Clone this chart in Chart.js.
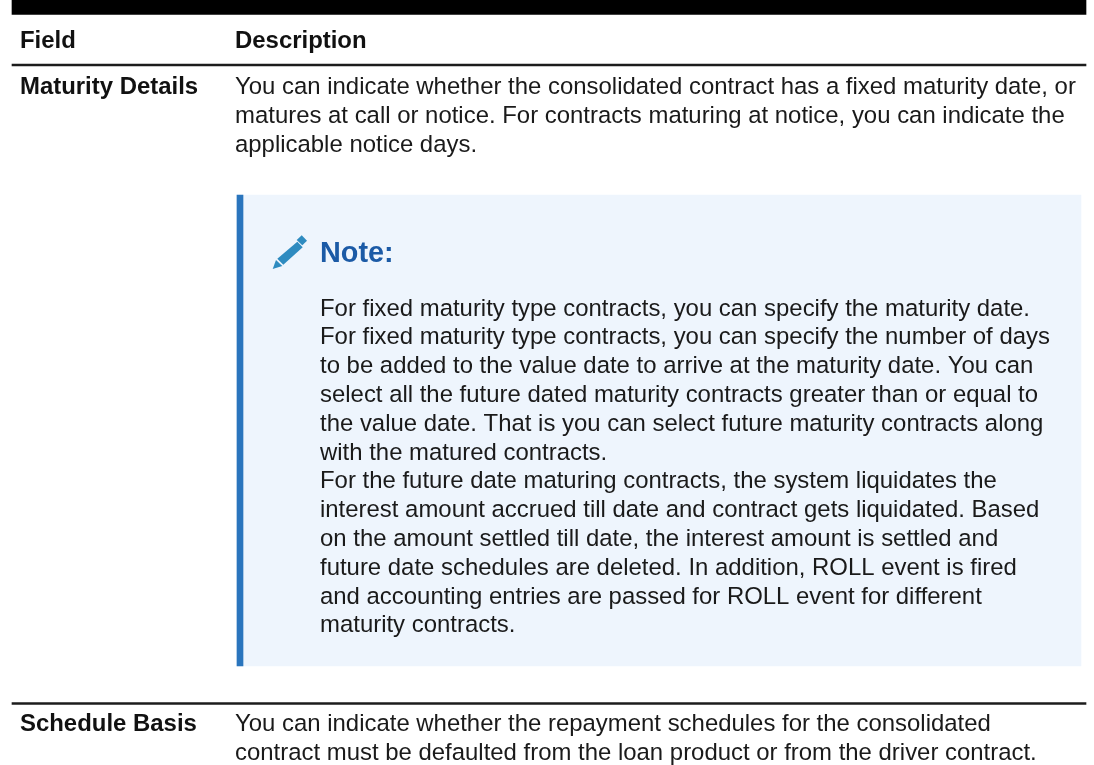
<!DOCTYPE html>
<html>
<head>
<meta charset="utf-8">
<title>Maturity Details</title>
<script src="https://cdn.jsdelivr.net/npm/chart.js@4"></script>
<style>
html, body { margin: 0; padding: 0; background: #fff; }
canvas { display: block; }
</style>
</head>
<body>
<canvas id="page" width="1094" height="765"></canvas>
<script>
// table text
const headers = ['Field', 'Description'];
const fieldNames = ['Maturity Details', 'Schedule Basis'];
const maturityLines = [
    'You can indicate whether the consolidated contract has a fixed maturity date, or',
    'matures at call or notice. For contracts maturing at notice, you can indicate the',
    'applicable notice days.'
];
const noteTitle = 'Note:';
const noteLines = [
    'For fixed maturity type contracts, you can specify the maturity date.',
    'For fixed maturity type contracts, you can specify the number of days',
    'to be added to the value date to arrive at the maturity date. You can',
    'select all the future dated maturity contracts greater than or equal to',
    'the value date. That is you can select future maturity contracts along',
    'with the matured contracts.',
    'For the future date maturing contracts, the system liquidates the',
    'interest amount accrued till date and contract gets liquidated. Based',
    'on the amount settled till date, the interest amount is settled and',
    'future date schedules are deleted. In addition, ROLL event is fired',
    'and accounting entries are passed for ROLL event for different',
    'maturity contracts.'
];
const scheduleLines = [
    'You can indicate whether the repayment schedules for the consolidated',
    'contract must be defaulted from the loan product or from the driver contract.'
];

// table furniture: [name, from, to, centre, thickness, colour]
// chart.js paints the first dataset last, so the note edge comes before the panel
const bands = [
    ['topBar', 12, 1086, 7.25, 14.5, '#000000'],
    ['headerRule', 12, 1086, 65, 2, '#1c1c1c'],
    ['noteEdge', 237, 243, 430.5, 471, '#2a75bd'],
    ['notePanel', 237, 1081, 430.5, 471, '#eef5fd'],
    ['rowRule', 12, 1086, 703.5, 2, '#1c1c1c']
];

const BODY = '23.93px "Liberation Sans"';
const BOLD = 'bold 23.93px "Liberation Sans"';
const LINE = 28.8;

// pencil icon next to the note title
function pencilIcon() {
    const c = document.createElement('canvas');
    c.width = 36;
    c.height = 36;
    const g = c.getContext('2d');
    g.fillStyle = '#2e8bc0';
    const shapes = [
        [[0.7, 35], [4, 26], [10.3, 32]],
        [[5.3, 24.7], [25.3, 7.7], [30.7, 13.3], [11.3, 30.7]],
        [[24.7, 6], [29.7, 1.3], [35, 6.7], [30.3, 11.3]]
    ];
    shapes.forEach(function(s) {
        g.beginPath();
        s.forEach(function(p, i) {
            if (i === 0) g.moveTo(p[0], p[1]);
            else g.lineTo(p[0], p[1]);
        });
        g.closePath();
        g.fill();
    });
    return c;
}

// writes the table text through the chart's scales
const textPlugin = {
    id: 'tableText',
    afterDatasetsDraw(chart) {
        const ctx = chart.ctx;
        const x = chart.scales.x;
        const y = chart.scales.y;

        function write(text, left, base, font, color) {
            ctx.font = font;
            ctx.fillStyle = color;
            ctx.fillText(text, x.getPixelForValue(left), y.getPixelForValue(base));
        }

        ctx.save();
        ctx.textBaseline = 'alphabetic';
        ctx.textAlign = 'left';
        write(headers[0], 20, 48, BOLD, '#111111');
        write(headers[1], 235, 48, BOLD, '#111111');
        write(fieldNames[0], 20, 94, BOLD, '#111111');
        maturityLines.forEach((t, i) => write(t, 235, 94 + i * LINE, BODY, '#1a1a1a'));
        write(noteTitle, 320, 262, 'bold 28.8px "Liberation Sans"', '#1b5aa6');
        noteLines.forEach((t, i) => write(t, 320, 315.5 + i * LINE, BODY, '#1a1a1a'));
        write(fieldNames[1], 20, 731, BOLD, '#111111');
        scheduleLines.forEach((t, i) => write(t, 235, 731 + i * LINE, BODY, '#1a1a1a'));
        ctx.restore();
    }
};

document.addEventListener('DOMContentLoaded', function() {
    const datasets = [{
        type: 'scatter',
        label: 'pencil',
        data: [{ x: 290, y: 252 }],
        pointStyle: pencilIcon(),
        clip: false
    }];
    bands.forEach(function(b) {
        datasets.push({
            label: b[0],
            data: [{ x: [b[1], b[2]], y: b[3] }],
            barThickness: b[4],
            backgroundColor: b[5],
            borderWidth: 0,
            grouped: false
        });
    });

    new Chart(document.getElementById('page'), {
        type: 'bar',
        data: { datasets: datasets },
        options: {
            indexAxis: 'y',
            responsive: false,
            animation: false,
            // the scatter point would otherwise inset the plot area by its radius
            layout: { padding: 0, autoPadding: false },
            plugins: { legend: { display: false }, tooltip: { enabled: false } },
            scales: {
                x: { type: 'linear', min: 0, max: 1094, offset: false, display: false },
                y: { type: 'linear', min: 0, max: 765, reverse: true, offset: false, display: false }
            }
        },
        plugins: [textPlugin]
    });
});
</script>
</body>
</html>
